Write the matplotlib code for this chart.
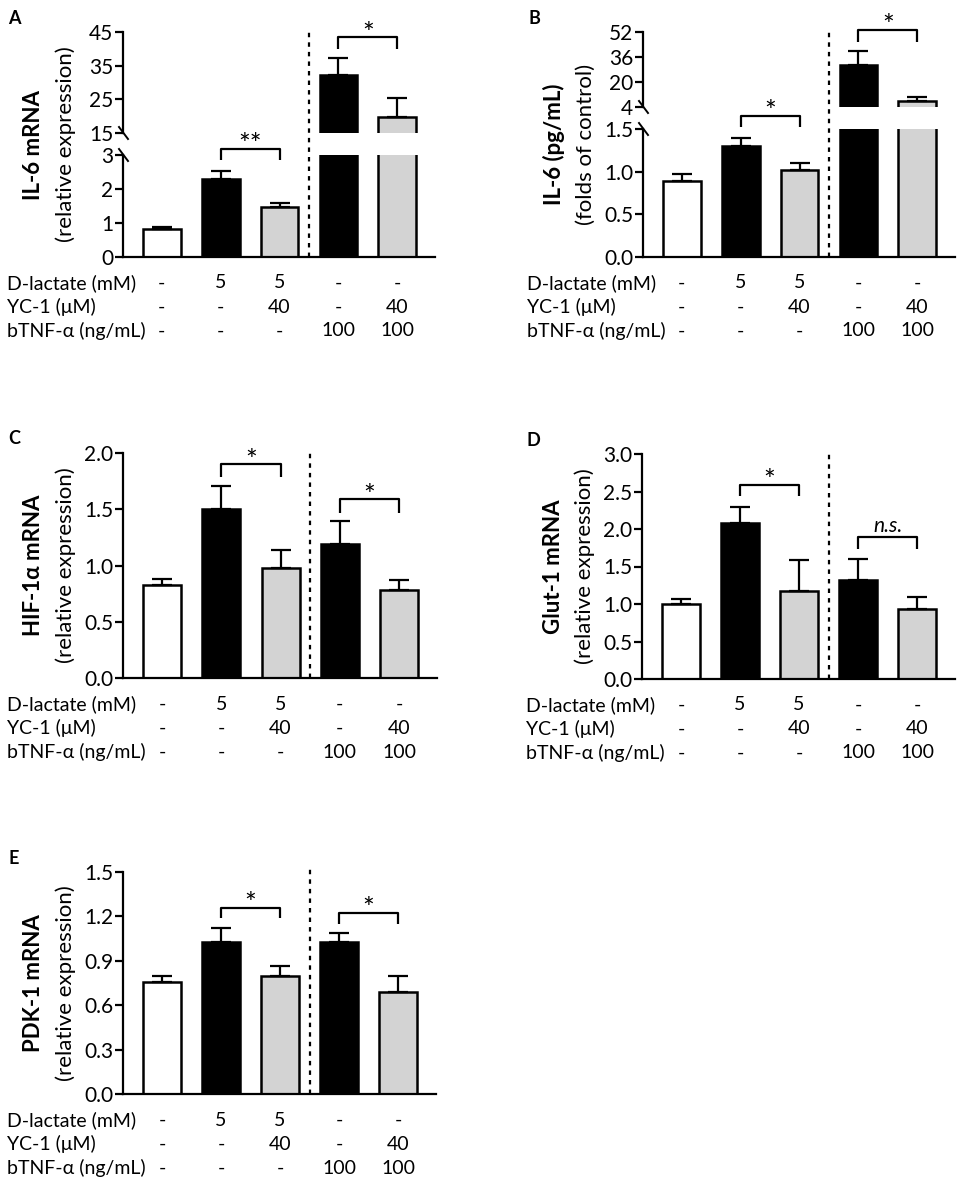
import numpy as np
import matplotlib
matplotlib.use('Agg')
import matplotlib.pyplot as plt

plt.rcParams['font.family'] = ['Lato', 'DejaVu Sans']
FS = 14

# treatment rows under the bars
row_names = ['D-lactate (mM)', 'YC-1 (\u03bcM)', 'bTNF-\u03b1 (ng/mL)']
dlactate = ['-', '5', '5', '-', '-']
yc1 = ['-', '-', '40', '-', '40']
btnf = ['-', '-', '-', '100', '100']
bar_colors = ['white', 'black', '#d3d3d3', 'black', '#d3d3d3']

# panel A: IL-6 mRNA
il6_mrna = [0.82, 2.28, 1.47, 32.1, 19.8]
il6_mrna_err = [0.07, 0.26, 0.13, 5.2, 5.7]
# panel B: IL-6 protein
il6_prot = [0.89, 1.30, 1.02, 30.9, 8.0]
il6_prot_err = [0.08, 0.10, 0.08, 9.1, 2.2]
# panel C: HIF-1a mRNA
hif = [0.83, 1.50, 0.98, 1.19, 0.78]
hif_err = [0.05, 0.21, 0.16, 0.21, 0.09]
# panel D: Glut-1 mRNA
glut = [1.00, 2.08, 1.18, 1.32, 0.94]
glut_err = [0.07, 0.22, 0.41, 0.28, 0.16]
# panel E: PDK-1 mRNA
pdk = [0.76, 1.03, 0.80, 1.03, 0.69]
pdk_err = [0.04, 0.09, 0.065, 0.06, 0.11]

W, H = 957, 1179
fig = plt.figure(figsize=(W / 100, H / 100), dpi=100)


def rect(x0, y0, x1, y1):
    return [x0 / W, 1 - y1 / H, (x1 - x0) / W, (y1 - y0) / H]


x = np.arange(5)
XL = (-0.66, 4.64)


def style(ax, bottom=True):
    ax.set_xlim(*XL)
    for s in ['top', 'right']:
        ax.spines[s].set_visible(False)
    ax.spines['left'].set_linewidth(1.6)
    ax.spines['bottom'].set_linewidth(1.6)
    if not bottom:
        ax.spines['bottom'].set_visible(False)
    ax.set_xticks([])
    ax.tick_params(axis='y', direction='out', length=6, width=1.6, labelsize=FS + 1, pad=1)
    ax.patch.set_alpha(0)


def bars(ax, vals, errs):
    ax.bar(x, vals, width=0.64, color=bar_colors, edgecolor='black', linewidth=1.8, zorder=2)
    ax.errorbar(x, vals, yerr=[np.zeros(5), errs], fmt='none', ecolor='black',
                elinewidth=1.6, capsize=7, capthick=1.6, zorder=3)


def bracket(ax, i, j, ytop, yleg, txt):
    ax.plot([i, i, j, j], [yleg, ytop, ytop, yleg], color='black', lw=1.6, clip_on=False,
            solid_capstyle='butt', zorder=4)
    if txt == 'n.s.':
        ax.annotate(txt, xy=((i + j) / 2, ytop), xytext=(0, 3), textcoords='offset points',
                    ha='center', va='baseline', fontsize=FS + 1, annotation_clip=False,
                    style='italic')
    else:
        ax.annotate(txt, xy=((i + j) / 2, ytop), xytext=(0, -4), textcoords='offset points',
                    ha='center', va='baseline', fontsize=FS + 6, annotation_clip=False)


def decorate(box, letter, bold_lab, lab):
    x0, y0, x1, y1 = box
    over = fig.add_axes(rect(x0, y0, x1, y1))
    over.set_xlim(*XL)
    over.set_ylim(0, 1)
    over.axis('off')
    over.plot([2.5, 2.5], [0, 1.015], color='black', lw=1.6, ls=(0, (2.0, 2.3)), clip_on=False)
    cy = 1 - (y0 + y1) / 2 / H
    fig.text((x0 - 89) / W, cy, bold_lab, rotation=90, ha='center', va='center',
             fontsize=FS + 2, fontweight='bold')
    fig.text((x0 - 57) / W, cy, lab, rotation=90, ha='center', va='center', fontsize=FS + 2)
    fig.text((x0 - 115) / W, 1 - (y0 - 14) / H, letter, ha='left', va='center',
             fontsize=FS - 1, fontweight='bold')
    for r, (name, vals) in enumerate(zip(row_names, [dlactate, yc1, btnf])):
        yy = 1 - (y1 + 26 + 24 * r) / H
        fig.text((x0 - 116) / W, yy, name, ha='left', va='center', fontsize=FS)
        for k, v in enumerate(vals):
            xx = over.transData.transform((k, 0))[0] / fig.dpi / fig.get_figwidth()
            fig.text(xx, yy, v, ha='center', va='center', fontsize=FS)


def break_marks(ax_top, ax_low):
    inv = fig.transFigure.inverted()
    for ax, yv in [(ax_top, 0), (ax_low, 1)]:
        px, py = ax.transAxes.transform((0, yv))
        a = inv.transform((px - 4, py + 6))
        b = inv.transform((px + 5, py - 6))
        fig.add_artist(plt.Line2D([a[0], b[0]], [a[1], b[1]], color='black', lw=1.4,
                                  transform=fig.transFigure))


# ---- A ----
boxA = (123, 32, 435, 257)
axA_top = fig.add_axes(rect(123, 32, 435, 133))
axA_low = fig.add_axes(rect(123, 155, 435, 257))
for ax in (axA_top, axA_low):
    bars(ax, il6_mrna, il6_mrna_err)
axA_top.set_ylim(15, 45)
axA_top.set_yticks([15, 25, 35, 45])
axA_low.set_ylim(0, 3)
axA_low.set_yticks([0, 1, 2, 3])
style(axA_top, bottom=False)
style(axA_low)
bracket(axA_low, 1, 2, 3.19, 2.84, '**')
bracket(axA_top, 3, 4, 43.5, 40.0, '*')
break_marks(axA_top, axA_low)
decorate(boxA, 'A', 'IL-6 mRNA', '(relative expression)')

# ---- B ----
boxB = (643, 32, 955, 257)
axB_top = fig.add_axes(rect(643, 32, 955, 107))
axB_low = fig.add_axes(rect(643, 129, 955, 257))
for ax in (axB_top, axB_low):
    bars(ax, il6_prot, il6_prot_err)
axB_top.set_ylim(4, 52)
axB_top.set_yticks([4, 20, 36, 52])
axB_low.set_ylim(0, 1.5)
axB_low.set_yticks([0, 0.5, 1.0, 1.5])
axB_low.set_yticklabels(['0.0', '0.5', '1.0', '1.5'])
style(axB_top, bottom=False)
style(axB_low)
bracket(axB_low, 1, 2, 1.657, 1.52, '*')
bracket(axB_top, 3, 4, 53.5, 45.4, '*')
break_marks(axB_top, axB_low)
decorate(boxB, 'B', 'IL-6 (pg/mL)', '(folds of control)')

# ---- C, D, E ----
simple = [
    ((123, 453, 437, 678), 'C', 'HIF-1\u03b1 mRNA', hif, hif_err, 2.0, 0.5,
     [(1, 2, 1.90, 1.79, '*'), (3, 4, 1.59, 1.47, '*')]),
    ((642, 454, 955, 679), 'D', 'Glut-1 mRNA', glut, glut_err, 3.0, 0.5,
     [(1, 2, 2.59, 2.44, '*'), (3, 4, 1.90, 1.74, 'n.s.')]),
    ((123, 872, 436, 1094), 'E', 'PDK-1 mRNA', pdk, pdk_err, 1.5, 0.3,
     [(1, 2, 1.26, 1.186, '*'), (3, 4, 1.226, 1.15, '*')]),
]
for box, letter, blab, vals, errs, ymax, step, brs in simple:
    ax = fig.add_axes(rect(*box))
    bars(ax, vals, errs)
    ax.set_ylim(0, ymax)
    ticks = np.arange(0, ymax + step / 2, step)
    ax.set_yticks(ticks)
    ax.set_yticklabels([f'{t:.1f}' for t in ticks])
    style(ax)
    for b in brs:
        bracket(ax, *b)
    decorate(box, letter, blab, '(relative expression)')

fig.savefig('out.png', dpi=100)
